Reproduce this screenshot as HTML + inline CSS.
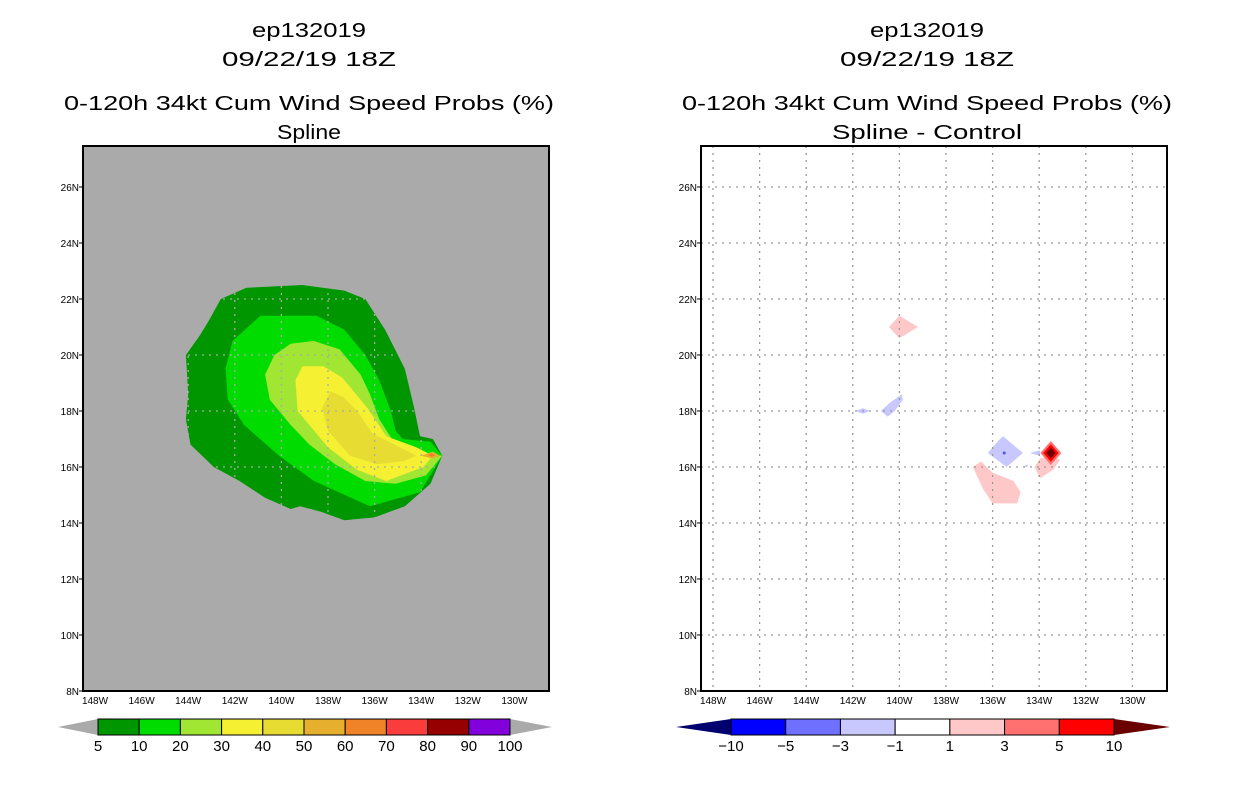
<!DOCTYPE html>
<html><head><meta charset="utf-8">
<style>
body{margin:0;background:#fff;width:1236px;height:800px;overflow:hidden}
svg{display:block}
text{font-family:"Liberation Sans",sans-serif;fill:#000}
</style></head>
<body>
<svg id="chart" width="1236" height="800" xmlns="http://www.w3.org/2000/svg">
<g id="titles">
<text x="309" y="37" font-size="20" text-anchor="middle" textLength="114" lengthAdjust="spacingAndGlyphs">ep132019</text>
<text x="309" y="66" font-size="20" text-anchor="middle" textLength="174" lengthAdjust="spacingAndGlyphs">09/22/19 18Z</text>
<text x="309" y="110" font-size="20" text-anchor="middle" textLength="490" lengthAdjust="spacingAndGlyphs">0-120h 34kt Cum Wind Speed Probs (%)</text>
<text x="309" y="139" font-size="20" text-anchor="middle" textLength="64" lengthAdjust="spacingAndGlyphs">Spline</text>
<text x="927" y="37" font-size="20" text-anchor="middle" textLength="114" lengthAdjust="spacingAndGlyphs">ep132019</text>
<text x="927" y="66" font-size="20" text-anchor="middle" textLength="174" lengthAdjust="spacingAndGlyphs">09/22/19 18Z</text>
<text x="927" y="110" font-size="20" text-anchor="middle" textLength="490" lengthAdjust="spacingAndGlyphs">0-120h 34kt Cum Wind Speed Probs (%)</text>
<text x="927" y="139" font-size="20" text-anchor="middle" textLength="190" lengthAdjust="spacingAndGlyphs">Spline - Control</text>
</g>
</svg>
<script>
// axis ticks
const latTicks=[8,10,12,14,16,18,20,22,24,26];
const lonTicks=[148,146,144,142,140,138,136,134,132,130];
// left panel contours (lon deg W, lat deg N)
const levels=[5,10,20,30,40,50,60];
const c5Lon=[141.5,139.1,137.3,136.4,135.55,134.7,134.3,134.05,133.5,133.1,133.6,134.7,136.0,137.3,138.3,139.2,139.6,140.7,141.8,142.9,143.9,144.1,144.0,144.1,143.5,143.1,142.6];
const c5Lat=[22.4,22.5,22.3,22.0,20.9,19.5,18.1,17.1,17.0,16.4,15.4,14.6,14.2,14.1,14.4,14.6,14.5,14.9,15.5,16.0,16.8,17.7,18.6,20.0,20.7,21.25,22.0];
const c10Lon=[140.9,138.5,137.3,136.4,135.8,135.3,135.1,134.8,133.6,133.1,134.05,136.2,138.6,140.1,141.6,142.3,142.4,142.1];
const c10Lat=[21.4,21.4,20.9,20.0,19.1,18.0,17.3,17.0,16.9,16.4,15.1,14.6,15.5,16.4,17.5,18.4,19.5,20.5];
const c20Lon=[139.6,138.6,137.5,136.6,136.2,135.8,135.1,134.05,133.1,133.8,135.1,136.4,137.7,138.8,139.6,140.5,140.7,140.3];
const c20Lat=[20.4,20.5,20.2,19.3,18.6,17.7,16.8,16.5,16.4,15.7,15.4,15.5,16.1,16.8,17.5,18.4,19.3,20.0];
const c30Lon=[139.1,139.4,139.3,138.0,136.75,135.5,133.9,133.5,134.2,135.5,136.3,137.4,138.2];
const c30Lat=[19.6,19.1,18.0,16.7,15.9,15.5,16.0,16.4,16.7,17.1,18.1,19.2,19.6];
const c40Lon=[137.9,138.25,138.0,137.05,135.9,134.8,134.2,136.1,136.75,137.35];
const c40Lat=[18.7,18.1,17.3,16.4,16.1,16.2,16.4,17.2,18.0,18.5];
const c50Lon=[134.0,133.5,133.2,133.5];
const c50Lat=[16.4,16.55,16.4,16.3];
const c60Lon=[133.7,133.55,133.4,133.55];
const c60Lat=[16.43,16.5,16.43,16.36];
// right panel difference contours
const dPinkTopLon=[140.0,139.2,140.0,140.45], dPinkTopLat=[21.4,21.0,20.6,21.0];
const dBlueALon=[141.9,141.56,141.26,141.56], dBlueALat=[18.0,18.1,18.0,17.9];
const dBlueBLon=[139.9,139.85,140.2,140.5,140.8,140.4], dBlueBLat=[18.6,18.4,18.0,17.8,18.0,18.3];
const dBlueCLon=[135.55,134.7,135.4,136.2,135.8], dBlueCLat=[17.1,16.5,16.0,16.5,16.9];
const dBlueDLon=[134.4,133.96,133.96], dBlueDLat=[16.5,16.6,16.4];
const dBlueELon=[134.7,134.5,134.5], dBlueELat=[16.0,16.1,16.0];
const dPinkBigLon=[136.5,136.0,135.1,134.8,134.95,136.0,136.4,136.85], dPinkBigLat=[16.2,15.8,15.5,15.1,14.7,14.7,15.2,16.0];
const dPinkRLon=[133.96,133.5,133.1,133.4,133.96,134.2], dPinkRLat=[16.3,16.4,16.25,15.9,15.6,16.0];
const peakLon=133.5, peakLat=16.5;
const peakRadii=[0.45,0.33,0.2];
const peakColors=['#ff7070','#ff0000','#6b0000'];
// colorbars
const leftBarLabels=['5','10','20','30','40','50','60','70','80','90','100'];
const leftBarColors=['#009600','#00dc00','#a0e632','#f5f032','#e6dc32','#e6af2d','#f08228','#fa3c3c','#960000','#8200dc'];
const rightBarLabels=['-10','-5','-3','-1','1','3','5','10'];
const rightBarColors=['#0000ff','#7070ff','#c8c8ff','#ffffff','#ffc8c8','#ff7070','#ff0000'];

const NS='http://www.w3.org/2000/svg';
const svg=document.getElementById('chart');
function mk(tag,attrs,parent){const e=document.createElementNS(NS,tag);for(const k in attrs)e.setAttribute(k,attrs[k]);(parent||svg).appendChild(e);return e;}
const P0={x0:83,x1:549,y0:146,y1:691}, P1={x0:701,x1:1167,y0:146,y1:691};
function xS(p,lon){return p.x0+12+(148-lon)*23.3;}
function yS(p,lat){return 691-(lat-8)*28;}
function pts(p,lons,lats){return lons.map((l,i)=>xS(p,l).toFixed(1)+','+yS(p,lats[i]).toFixed(1)).join(' ');}

function panel(p,bg,gridCol,name){
  const g=mk('g',{});
  
  
  const r=mk('rect',{x:p.x0,y:p.y0,width:p.x1-p.x0,height:p.y1-p.y0,fill:bg},g);
  
  
  return g;
}
function grid(p,g,col,name){
  latTicks.forEach(t=>{
    const y=yS(p,t);
    if(t>8){const l=mk('line',{x1:p.x0,x2:p.x1,y1:y,y2:y,stroke:col,'stroke-width':1.3,'stroke-dasharray':'2,5'},g);
    
    }
    mk('line',{x1:p.x0-4,x2:p.x0,y1:y,y2:y,stroke:'#000','stroke-width':1},g);
    const tx=mk('text',{x:p.x0-4,y:y+4,'font-size':10,'text-anchor':'end'},g);
    tx.textContent=t+'N';
    
    
  });
  lonTicks.forEach(t=>{
    const x=xS(p,t);
    const l=mk('line',{x1:x,x2:x,y1:p.y0,y2:p.y1,stroke:col,'stroke-width':1.3,'stroke-dasharray':'2,5'},g);
    
    
    const tx=mk('text',{x:x,y:p.y1+13,'font-size':10,'text-anchor':'middle'},g);
    tx.textContent=t+'W';
    
    
  });
}
function poly(p,g,lons,lats,fill,name){
  const e=mk('polygon',{points:pts(p,lons,lats),fill:fill},g);
  
  
}
// left panel
const gL=panel(P0,'#aaaaaa','#aaa','left-map');
poly(P0,gL,c5Lon,c5Lat,leftBarColors[0],'contour-5');
poly(P0,gL,c10Lon,c10Lat,leftBarColors[1],'contour-10');
poly(P0,gL,c20Lon,c20Lat,leftBarColors[2],'contour-20');
poly(P0,gL,c30Lon,c30Lat,leftBarColors[3],'contour-30');
poly(P0,gL,c40Lon,c40Lat,leftBarColors[4],'contour-40');
poly(P0,gL,c50Lon,c50Lat,leftBarColors[5],'contour-50');
poly(P0,gL,c60Lon,c60Lat,leftBarColors[6],'contour-60');
grid(P0,gL,'#aaaaaa','left');
const b0=mk('rect',{x:P0.x0,y:P0.y0,width:P0.x1-P0.x0,height:P0.y1-P0.y0,fill:'none',stroke:'#000','stroke-width':2},gL);


// right panel
const gR=panel(P1,'#ffffff','#999','right-map');
poly(P1,gR,dPinkTopLon,dPinkTopLat,'#ffc8c8','diff-pos-north');
poly(P1,gR,dBlueALon,dBlueALat,'#c8c8ff','diff-neg-west-small');
poly(P1,gR,dBlueBLon,dBlueBLat,'#c8c8ff','diff-neg-west');
poly(P1,gR,dBlueCLon,dBlueCLat,'#c8c8ff','diff-neg-center');
poly(P1,gR,dBlueDLon,dBlueDLat,'#c8c8ff','diff-neg-sliver-a');
poly(P1,gR,dBlueELon,dBlueELat,'#c8c8ff','diff-neg-sliver-b');
poly(P1,gR,dPinkBigLon,dPinkBigLat,'#ffc8c8','diff-pos-south');
poly(P1,gR,dPinkRLon,dPinkRLat,'#ffc8c8','diff-pos-east');
peakRadii.forEach((r,i)=>{
  poly(P1,gR,[peakLon,peakLon-r,peakLon,peakLon+r],[peakLat+r*0.95,peakLat,peakLat-r*0.95,peakLat],peakColors[i],'diff-peak-'+i);
});
const dot=mk('circle',{cx:xS(P1,135.5),cy:yS(P1,16.5),r:1.5,fill:'#5050ff'},gR);


grid(P1,gR,'#999999','right');
const b1=mk('rect',{x:P1.x0,y:P1.y0,width:P1.x1-P1.x0,height:P1.y1-P1.y0,fill:'none',stroke:'#000','stroke-width':2},gR);



function colorbar(x0,x1,tipL,tipR,colors,labels,lc,rc,name){
  const g=mk('g',{});
  
  
  const y0=719,y1=735,ym=727,w=(x1-x0)/colors.length;
  const tl=mk('polygon',{points:`${tipL},${ym} ${x0},${y0} ${x0},${y1}`,fill:lc},g);
  
  
  const tr=mk('polygon',{points:`${tipR},${ym} ${x1},${y0} ${x1},${y1}`,fill:rc},g);
  
  
  colors.forEach((c,i)=>{
    const r=mk('rect',{x:x0+i*w,y:y0,width:w,height:y1-y0,fill:c,stroke:'#000','stroke-width':1},g);
    
    
  });
  labels.forEach((l,i)=>{
    const t=mk('text',{x:x0+i*w,y:751,'font-size':15,'text-anchor':'middle'},g);
    t.textContent=l.replace('-','\u2212');
    
    
  });
}
colorbar(98,510,58,552,leftBarColors,leftBarLabels,'#aaaaaa','#aaaaaa','left-colorbar');
colorbar(731,1114,676,1170,rightBarColors,rightBarLabels,'#00006e','#6b0000','right-colorbar');
</script>
</body></html>
